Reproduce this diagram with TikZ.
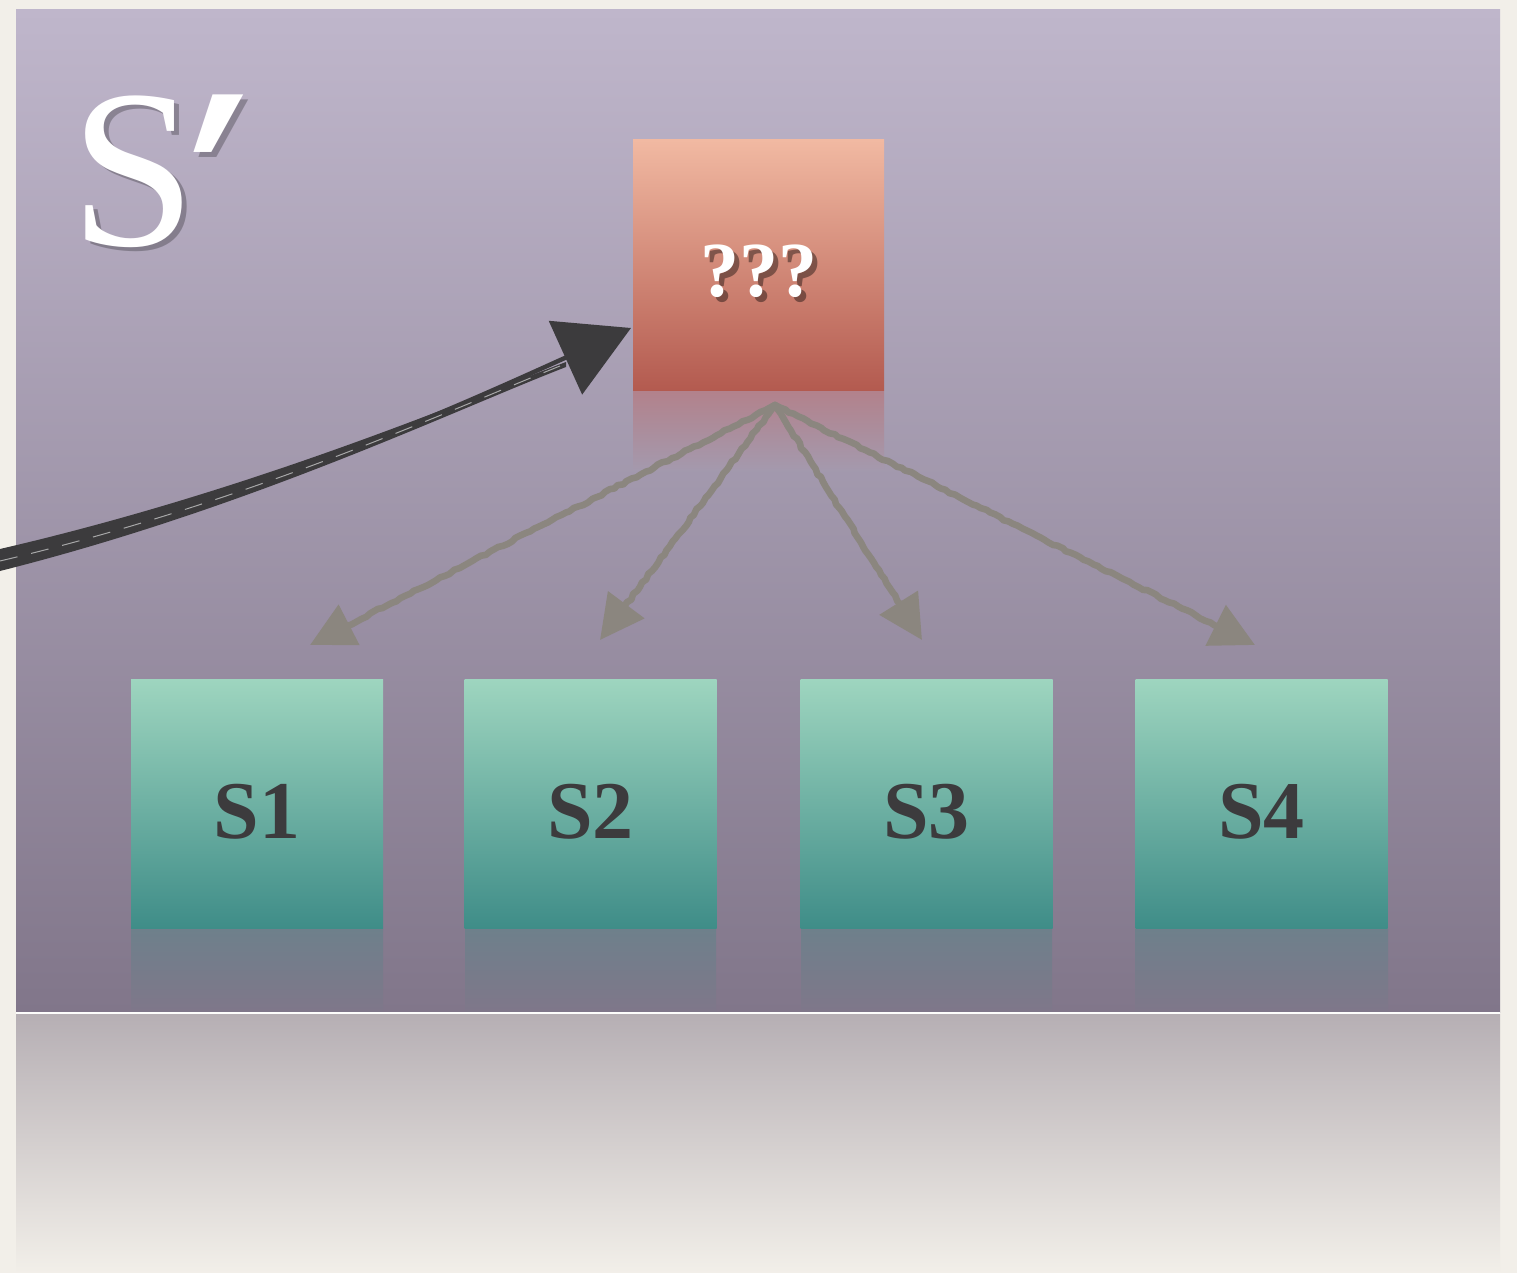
\documentclass[tikz,border=0pt]{standalone}
\usepackage{fontspec}
\setmainfont{Liberation Serif}
\newfontfamily\primefont{DejaVu Serif}
\usetikzlibrary{arrows.meta,decorations.pathmorphing,calc}

\definecolor{pagebg}{HTML}{F2EFE9}
\definecolor{slidetop}{HTML}{BFB6CB}
\definecolor{slidebot}{HTML}{81768A}
\definecolor{floortop}{HTML}{B6AFB4}
\definecolor{redtop}{HTML}{F1B9A2}
\definecolor{redbot}{HTML}{B35A4F}
\definecolor{redrefl}{HTML}{B2828C}
\definecolor{redfade}{HTML}{A499AD}
\definecolor{tealtop}{HTML}{9ED5BF}
\definecolor{tealbot}{HTML}{3F8D88}
\definecolor{tealrefl}{HTML}{6E808B}
\definecolor{tealfade}{HTML}{7F778A}
\definecolor{ink}{HTML}{3C3B3D}
\definecolor{chalk}{HTML}{8B867F}

\newcommand{\sprime}{S\kern-0.03em\raisebox{-40pt}{\scalebox{1}[1.4]{\primefont\bfseries ′}}}

\tikzset{
  tealbox/.style={rectangle, inner sep=0pt, minimum width=126pt, minimum height=124.5pt,
    top color=tealtop, bottom color=tealbot, text=ink, text height=35pt, text depth=0pt,
    font=\bfseries\fontsize{41}{41}\selectfont},
  redbox/.style={rectangle, inner sep=0pt, minimum width=125.5pt, minimum height=125.5pt,
    top color=redtop, bottom color=redbot},
  qmark/.style={inner sep=0pt, font=\bfseries\fontsize{39}{39}\selectfont},
  titletext/.style={anchor=base west, inner sep=0pt, font=\fontsize{113}{113}\selectfont},
  chalkarrow/.style={draw=chalk, line width=3.3pt, line cap=round, line join=round,
    -{Triangle[length=22pt,width=22pt]}, decorate,
    decoration={random steps, segment length=2.5pt, amplitude=0.5pt, pre length=3pt, post length=8pt}},
  inkarrow/.style={draw=ink, line width=2.2pt, -{Triangle[length=36pt,width=40pt]}},
}

\begin{document}
\begin{tikzpicture}[x=0.5pt,y=-0.5pt]
\pgfmathsetseed{7}
% page and slide
\fill[pagebg] (0,0) rectangle (1517,1273);
\useasboundingbox (0,0) rectangle (1517,1273);
\shade[top color=slidetop, bottom color=slidebot] (16,10) rectangle (1500,1012);
\shade[top color=floortop, bottom color=pagebg] (16,1014) rectangle (1500,1273);
\draw[white!85!pagebg, line width=1pt] (16,1013) -- (1500,1013);

% title with its soft drop shadow
\node[titletext, text=black, opacity=0.25] at (75,250) {\sprime};
\node[titletext, text=white] (title) at (70,246) {\sprime};

% reflections under the boxes
\shade[top color=redrefl, bottom color=redfade] (633,392) rectangle (884,470);
\foreach \l/\r in {131/383,465/716,801/1052,1135/1388}
  \shade[top color=tealrefl, bottom color=tealfade] (\l,929) rectangle (\r,1011);

% boxes
\node[redbox] (qq) at (758.5,265.5) {};
\node[qmark, text=black, opacity=0.4] at ($(qq)+(5,11)$) {???};
\node[qmark, text=white] (qqtext) at ($(qq)+(0,6)$) {???};

\node[tealbox] (s1) at (257,803.5) {S1};
\node[tealbox] (s2) at (590.5,803.5) {S2};
\node[tealbox] (s3) at (926.5,803.5) {S3};
\node[tealbox] (s4) at (1261.5,803.5) {S4};

% fan-out arrows
\coordinate (hub) at (775,405);
\coordinate (t1) at (310,645);
\coordinate (t2) at (600,640);
\coordinate (t3) at (922,640);
\coordinate (t4) at (1255,645);
\foreach \t in {t1,t2,t3,t4}
  \draw[chalkarrow] (hub) -- (\t);

% incoming sketched arrow
\coordinate (from) at (0,560);
\coordinate (hit) at (631,328);
\fill[ink] (0,549) .. controls (250,491) and (450,406) .. (566,362)
        -- (566,367) .. controls (450,412) and (250,508) .. (0,571) -- cycle;
\draw[inkarrow] (from) .. controls (250,500) and (450,410) .. (hit);
\draw[white!55!ink, line width=0.5pt, dash pattern=on 9pt off 7pt]
  (0,561) .. controls (250,502) and (450,410) .. (560,366);
\end{tikzpicture}
\end{document}
